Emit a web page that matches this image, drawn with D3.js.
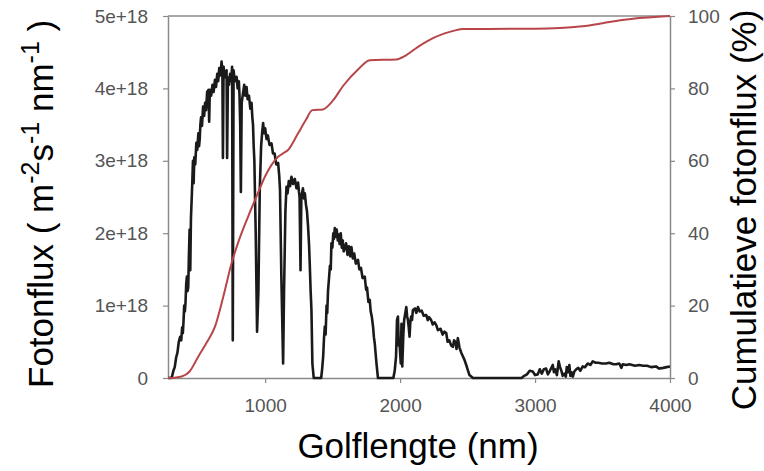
<!DOCTYPE html>
<html>
<head>
<meta charset="utf-8">
<script src="https://cdn.jsdelivr.net/npm/d3@7"></script>
<style>
  body { margin: 0; background: #fff; }
  svg { display: block; font-family: "Liberation Sans", Arial, sans-serif; }
</style>
</head>
<body>
<svg id="chart" width="764" height="471"></svg>
<script>
// golflengte (nm) en fotonflux (in eenheden van 1e18)
const spectrum = [
  [280,0],[300,0],[310,0.02],[320,0.10],[330,0.15],[340,0.28],[350,0.35],[360,0.50],[370,0.57],
  [378,0.52],[385,0.70],[390,0.62],[395,0.78],[400,1.00],[405,0.92],[410,1.05],[415,1.30],
  [420,1.40],[425,1.20],[430,1.25],[435,1.70],[440,2.05],[445,1.49],[450,2.20],[455,2.45],
  [460,2.70],[465,3.00],[470,2.69],[475,3.05],[482,2.95],[490,3.25],[497,3.15],[505,3.38],
  [510,3.20],[515,3.30],[520,3.50],[525,3.60],[532,3.48],[540,3.75],[548,3.62],[555,3.80],
  [562,3.70],[570,3.95],[580,3.98],[585,3.54],[590,3.98],[600,3.90],[610,4.05],[618,3.95],
  [628,4.12],[636,4.02],[645,4.20],[652,4.10],[660,4.28],[668,4.18],[677,4.37],[683,4.25],
  [687,3.04],[692,4.30],[698,4.15],[705,4.20],[714,4.25],[718,3.04],[724,4.15],[732,4.05],
  [740,4.20],[748,4.10],[755,4.30],[760,0.52],[766,4.25],[775,4.10],[788,4.16],[796,4.00],
  [805,4.10],[810,3.90],[815,3.50],[820,2.57],[826,3.80],[835,3.92],[845,4.05],[853,3.90],
  [862,4.02],[870,3.85],[880,3.90],[890,3.72],[899,3.80],[905,3.60],[910,3.50],[915,3.20],
  [920,3.00],[930,2.00],[940,0.64],[950,1.20],[960,2.60],[970,3.20],[978,3.40],[985,3.52],
  [992,3.38],[1000,3.45],[1010,3.30],[1020,3.35],[1032,3.22],[1047,3.24],[1058,3.10],
  [1070,3.10],[1082,2.95],[1096,2.97],[1104,2.80],[1110,2.60],[1120,1.40],[1133,0.20],
  [1140,1.20],[1150,2.30],[1158,2.64],[1166,2.55],[1175,2.72],[1185,2.65],[1195,2.78],
  [1207,2.68],[1220,2.75],[1232,2.62],[1244,2.70],[1250,2.58],[1255,2.50],[1262,1.49],
  [1268,2.50],[1280,2.62],[1287,2.48],[1294,2.55],[1302,2.40],[1310,2.30],[1318,2.09],
  [1325,1.85],[1330,1.60],[1337,1.20],[1343,0.94],[1350,0.20],[1360,0],[1415,0],[1422,0.12],
  [1430,0.30],[1436,0.55],[1442,0.71],[1448,0.60],[1455,1.00],[1460,0.90],[1466,1.21],
  [1472,1.35],[1480,1.55],[1486,1.50],[1491,1.86],[1498,1.80],[1505,2.00],[1510,1.92],
  [1516,2.07],[1522,1.95],[1530,2.05],[1538,1.90],[1545,1.98],[1552,1.85],[1560,2.00],
  [1568,1.80],[1575,1.90],[1582,1.75],[1590,1.80],[1600,1.86],[1610,1.70],[1620,1.82],
  [1630,1.68],[1639,1.81],[1650,1.65],[1660,1.72],[1672,1.58],[1688,1.63],[1698,1.50],
  [1710,1.52],[1722,1.38],[1738,1.40],[1748,1.22],[1755,1.25],[1765,1.05],[1775,1.08],
  [1782,0.92],[1790,0.85],[1800,0.70],[1806,0.56],[1812,0.48],[1825,0.20],[1836,0],
  [1950,0],[1960,0.10],[1970,0.30],[1977,0.80],[1984,0.85],[1990,0.45],[1995,0.50],
  [2005,0.20],[2010,0.75],[2016,0.16],[2024,0.60],[2030,0.80],[2046,0.98],[2052,0.85],
  [2058,0.80],[2064,0.70],[2070,0.57],[2076,0.78],[2082,0.85],[2088,0.80],[2095,0.94],
  [2110,0.96],[2120,0.90],[2132,0.98],[2145,0.92],[2160,0.93],[2175,0.86],[2194,0.87],
  [2205,0.80],[2215,0.84],[2230,0.80],[2242,0.74],[2255,0.77],[2268,0.73],[2280,0.66],
  [2300,0.68],[2315,0.60],[2328,0.64],[2342,0.62],[2352,0.50],[2365,0.52],[2378,0.45],
  [2391,0.43],[2400,0.52],[2410,0.50],[2418,0.40],[2428,0.55],[2440,0.42],[2453,0.35],
  [2465,0.30],[2477,0.25],[2490,0.18],[2500,0.12],[2514,0.04],[2540,0],[2900,0],[2920,0.03],
  [2940,0.05],[2960,0.10],[2983,0.09],[3000,0.04],[3020,0.05],[3035,0.12],[3050,0.06],
  [3065,0.12],[3082,0.13],[3095,0.05],[3110,0.10],[3131,0.18],[3140,0.08],[3150,0.12],
  [3162,0.04],[3175,0.23],[3185,0.15],[3195,0.10],[3205,0.03],[3217,0.06],[3228,0.02],
  [3235,0.15],[3245,0.08],[3254,0.18],[3262,0.03],[3270,0.08],[3280,0.02],[3291,0.09],
  [3305,0.12],[3320,0.14],[3335,0.10],[3353,0.16],[3370,0.15],[3390,0.20],[3410,0.18],
  [3427,0.23],[3450,0.21],[3470,0.21],[3495,0.20],[3526,0.20],[3550,0.21],[3580,0.19],
  [3600,0.19],[3624,0.20],[3640,0.14],[3650,0.19],[3675,0.18],[3700,0.19],[3740,0.17],
  [3772,0.18],[3800,0.17],[3830,0.17],[3860,0.15],[3896,0.16],[3920,0.13],[3950,0.14],
  [3975,0.15],[4000,0.16]
];

// cumulatieve fotonflux (%)
const cumulative = [
  [280,0],[330,0.1],[381,0.4],[440,1.8],[504,5.9],[570,10.0],[628,14.2],[690,22.5],[751,31.7],
  [810,38.5],[874,44.6],[940,50.5],[998,55.6],[1050,59.0],[1096,61.1],[1130,62.0],[1170,63.0],
  [1244,67.6],[1300,71.2],[1350,74.0],[1427,74.2],[1501,76.6],[1580,80.8],[1688,85.2],
  [1775,87.8],[1972,88.0],[2046,89.2],[2130,91.4],[2240,93.8],[2330,95.2],[2416,96.1],
  [2463,96.4],[3000,96.5],[3351,97.2],[3500,98.0],[3647,98.9],[3800,99.5],[4000,100]
];

const xTicks = [1000, 2000, 3000, 4000];
const yLeftTicks = [0, 1, 2, 3, 4, 5];
const yLeftTickLabels = ['0', '1e+18', '2e+18', '3e+18', '4e+18', '5e+18'];
const yRightTicks = [0, 20, 40, 60, 80, 100];

const width = 764;
const height = 471;
const margin = { top: 16, right: 94, bottom: 93, left: 168 };
const innerW = width - margin.left - margin.right;
const innerH = height - margin.top - margin.bottom;

const svg = d3.select('#chart');
const g = svg.append('g').attr('transform', `translate(${margin.left},${margin.top})`);

const x = d3.scaleLinear().domain([280, 4000]).range([0, innerW]);
const yLeft = d3.scaleLinear().domain([0, 5]).range([innerH, 0]);
const yRight = d3.scaleLinear().domain([0, 100]).range([innerH, 0]);

const axisColor = '#8a8a8a';
const labelColor = '#555';

function styleAxis(sel) {
  sel.select('.domain').attr('stroke', axisColor).attr('stroke-width', 1.5);
  sel.selectAll('.tick line').attr('stroke', axisColor).attr('stroke-width', 1.2);
  sel.selectAll('.tick text')
    .attr('fill', labelColor)
    .style('font-size', '19px');
}

// bovenrand
g.append('line')
  .attr('x1', 0).attr('x2', innerW)
  .attr('y1', 0).attr('y2', 0)
  .attr('stroke', axisColor).attr('stroke-width', 1.5);

g.append('g')
  .attr('transform', `translate(0,${innerH})`)
  .call(d3.axisBottom(x).tickValues(xTicks).tickSize(5).tickPadding(16).tickSizeOuter(0)
    .tickFormat(d3.format('d')))
  .call(styleAxis);

g.append('g')
  .call(d3.axisLeft(yLeft).tickValues(yLeftTicks).tickSize(5).tickPadding(15).tickSizeOuter(0)
    .tickFormat((d, i) => yLeftTickLabels[i]))
  .call(styleAxis);

g.append('g')
  .attr('transform', `translate(${innerW},0)`)
  .call(d3.axisRight(yRight).tickValues(yRightTicks).tickSize(5).tickPadding(13).tickSizeOuter(0))
  .call(styleAxis);

svg.append('clipPath').attr('id', 'plot-clip')
  .append('rect').attr('x', 0).attr('y', -2).attr('width', innerW).attr('height', innerH + 4);

g.append('path')
  .datum(spectrum)
  .attr('clip-path', 'url(#plot-clip)')
  .attr('fill', 'none')
  .attr('stroke', '#1a1a1a')
  .attr('stroke-width', 2.6)
  .attr('stroke-linejoin', 'round')
  .attr('d', d3.line().x(d => x(d[0])).y(d => yLeft(d[1])));

g.append('path')
  .datum(cumulative)
  .attr('fill', 'none')
  .attr('stroke', '#b8454a')
  .attr('stroke-width', 2)
  .attr('stroke-linejoin', 'round')
  .attr('d', d3.line().curve(d3.curveMonotoneX).x(d => x(d[0])).y(d => yRight(d[1])));

// astitels
svg.append('text')
  .attr('x', 418)
  .attr('y', 458)
  .attr('text-anchor', 'middle')
  .style('font-size', '35px')
  .text('Golflengte (nm)');

const leftTitle = svg.append('text')
  .attr('transform', `translate(53,388) rotate(-90)`)
  .attr('text-anchor', 'start')
  .style('font-size', '35px');
leftTitle.append('tspan').text('Fotonflux ( m');
leftTitle.append('tspan').attr('dy', -14).style('font-size', '25px').text('-2');
leftTitle.append('tspan').attr('dy', 14).text('s');
leftTitle.append('tspan').attr('dy', -14).style('font-size', '25px').text('-1');
leftTitle.append('tspan').attr('dy', 14).text(' nm');
leftTitle.append('tspan').attr('dy', -14).style('font-size', '25px').text('-1');
leftTitle.append('tspan').attr('dy', 14).text(' )');

svg.append('text')
  .attr('transform', `translate(756,210) rotate(-90)`)
  .attr('text-anchor', 'middle')
  .style('font-size', '35px')
  .text('Cumulatieve fotonflux (%)');
</script>
</body>
</html>
